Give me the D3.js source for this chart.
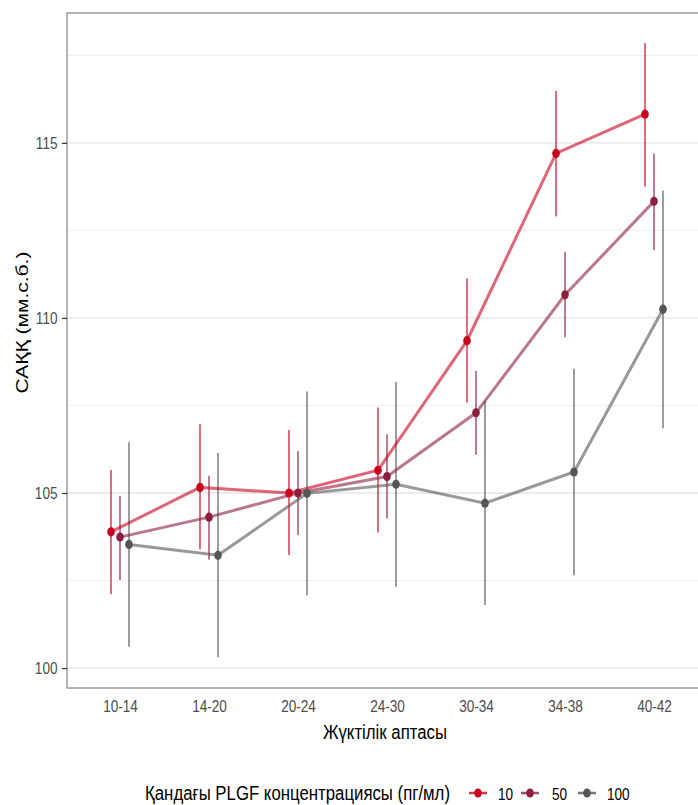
<!DOCTYPE html>
<html><head><meta charset="utf-8">
<script src="https://cdn.jsdelivr.net/npm/d3@7"></script>
<style>body{margin:0;background:#fff}svg{display:block;font-family:"Liberation Sans",Arial,sans-serif}</style>
</head><body><div id="chart"></div>
<script>
const categories = ["10-14","14-20","20-24","24-30","30-34","34-38","40-42"];
const seriesNames = ["10","50","100"];
const seriesColors = ["#C8001E","#8B1F3D","#555555"];
const mean10  = [103.89,105.16,105.00,105.65,109.35,114.70,115.82];
const low10   = [102.11,103.39,103.23,103.87,107.58,112.90,113.75];
const high10  = [105.66,106.96,106.80,107.44,111.13,116.49,117.85];
const mean50  = [103.74,104.31,105.00,105.47,107.29,110.66,113.33];
const low50   = [102.51,103.09,103.79,104.27,106.09,109.45,111.94];
const high50  = [104.92,105.49,106.20,106.68,108.49,111.88,114.70];
const mean100 = [103.53,103.22,104.99,105.25,104.71,105.60,110.25];
const low100  = [100.61,100.31,102.07,102.32,101.80,102.65,106.85];
const high100 = [106.45,106.14,107.90,108.17,107.63,108.55,113.64];
const yTicks = [100,105,110,115];
const yMinor = [102.5,107.5,112.5,117.5];
const xTitle = "Жүктілік аптасы";
const yTitle = "САҚҚ (мм.с.б.)";
const legendTitle = "Қандағы PLGF концентрациясы (пг/мл)";

const series = [
  {name:seriesNames[0], color:seriesColors[0], mean:mean10, low:low10, high:high10},
  {name:seriesNames[1], color:seriesColors[1], mean:mean50, low:low50, high:high50},
  {name:seriesNames[2], color:seriesColors[2], mean:mean100, low:low100, high:high100}
];

const W = 698, H = 805;
const L = 67, T = 13, B = 688;
const SX = 0.8; // horizontal squeeze of the original rendering
const svg = d3.select("#chart").append("svg").attr("width",W).attr("height",H);

const y = d3.scaleLinear().domain([99.43,118.71]).range([B,T]);
const x = d3.scalePoint().domain(categories).range([120,654]);
const dodge = d3.scalePoint().domain(seriesNames).range([-9,9]);
const R = 707.4;

// grid
const g = svg.append("g");
g.selectAll(".minor").data(yMinor).join("line")
  .attr("x1",L).attr("x2",R).attr("y1",d=>y(d)).attr("y2",d=>y(d))
  .attr("stroke","#EBEBEB").attr("stroke-width",0.8);
g.selectAll(".major").data(yTicks).join("line")
  .attr("x1",L).attr("x2",R).attr("y1",d=>y(d)).attr("y2",d=>y(d))
  .attr("stroke","#E5E5E5").attr("stroke-width",1.3);

// panel border
svg.append("rect").attr("x",L).attr("y",T).attr("width",R-L).attr("height",B-T)
  .attr("fill","none").attr("stroke","#8C8C8C").attr("stroke-width",1.3);

// y axis
const yAxis = svg.append("g").attr("transform",`translate(${L},0)`)
  .call(d3.axisLeft(y).tickValues(yTicks).tickSize(5).tickPadding(4).tickFormat(d3.format("d")));
yAxis.select(".domain").remove();
yAxis.selectAll(".tick line").attr("stroke","#333").attr("stroke-width",1.2);
yAxis.selectAll(".tick text").attr("fill","#4D4D4D").style("font-size","17px")
  .attr("x",-9.5/SX).attr("transform",`scale(${SX},1)`);

// x axis
const xAxis = svg.append("g").attr("transform",`translate(0,${B})`)
  .call(d3.axisBottom(x).tickSize(0).tickPadding(12));
xAxis.select(".domain").remove();
xAxis.selectAll(".tick text").attr("fill","#4D4D4D").style("font-size","17px")
  .attr("transform",`scale(${SX},1)`);

// titles
svg.append("text").attr("transform",`translate(385,739) scale(${SX},1)`).attr("text-anchor","middle")
  .style("font-size","21px").attr("fill","#000").text(xTitle);
svg.append("text").attr("transform",`translate(28,322.5) rotate(-90) scale(1,${SX})`).attr("text-anchor","middle")
  .style("font-size","21px").attr("fill","#000").text(yTitle);

// error bars
series.forEach(s=>{
  svg.append("g").selectAll("line").data(categories).join("line")
    .attr("x1",(c)=>x(c)+dodge(s.name)).attr("x2",(c)=>x(c)+dodge(s.name))
    .attr("y1",(c,i)=>y(s.low[i])).attr("y2",(c,i)=>y(s.high[i]))
    .attr("stroke",s.color).attr("stroke-opacity",0.72).attr("stroke-width",1.6);
});
// lines
const line = d3.line();
series.forEach(s=>{
  svg.append("path")
    .attr("d",line(categories.map((c,i)=>[x(c)+dodge(s.name), y(s.mean[i])])))
    .attr("fill","none").attr("stroke",s.color).attr("stroke-opacity",0.6).attr("stroke-width",3);
});
// points
series.forEach(s=>{
  svg.append("g").selectAll("ellipse").data(categories).join("ellipse")
    .attr("cx",c=>x(c)+dodge(s.name)).attr("cy",(c,i)=>y(s.mean[i])).attr("rx",3.8).attr("ry",4.6)
    .attr("fill",s.color);
});

// legend
const lg = svg.append("g");
lg.append("text").attr("transform",`translate(145,800) scale(${SX},1)`).style("font-size","21px").attr("fill","#000").text(legendTitle);
const keyX = [478,530,587];
const labX = [498,552,607];
series.forEach((s,i)=>{
  lg.append("line").attr("x1",keyX[i]-9).attr("x2",keyX[i]+9).attr("y1",793).attr("y2",793)
    .attr("stroke",s.color).attr("stroke-width",2.5).attr("stroke-opacity",0.8);
  lg.append("ellipse").attr("cx",keyX[i]).attr("cy",793).attr("rx",3.8).attr("ry",4.6).attr("fill",s.color);
  lg.append("text").attr("transform",`translate(${labX[i]},799.5) scale(${SX},1)`).style("font-size","17px").attr("fill","#000").text(s.name);
});
</script></body></html>
